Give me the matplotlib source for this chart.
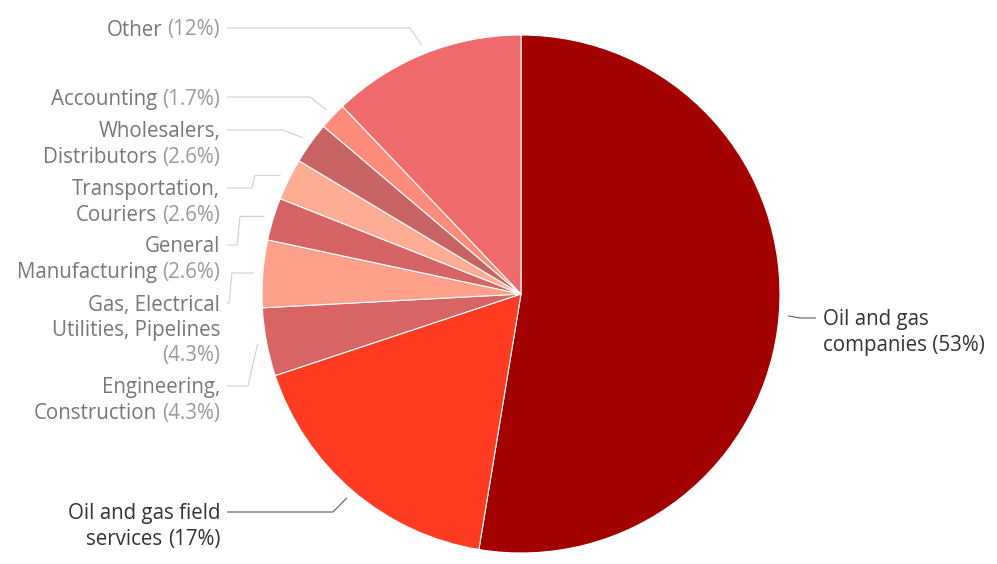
import matplotlib
matplotlib.use('Agg')
import matplotlib.pyplot as plt
import numpy as np

# ---- data ----
categories = ['Oil and gas\ncompanies', 'Oil and gas field\nservices', 'Engineering,\nConstruction',
              'Gas, Electrical\nUtilities, Pipelines\n', 'General\nManufacturing',
              'Transportation,\nCouriers', 'Wholesalers,\nDistributors', 'Accounting', 'Other']
shares = [52.6, 17.3, 4.25, 4.2, 2.65, 2.6, 2.6, 1.7, 12.1]
pct_labels = ['53%', '17%', '4.3%', '4.3%', '2.6%', '2.6%', '2.6%', '1.7%', '12%']
highlight = [True, True, False, False, False, False, False, False, False]

# ---- style / layout ----
colors = ['#a30000', '#ff3b22', '#d96464', '#ffa08a', '#d66464', '#ffac94', '#c86464', '#ff8c7a', '#ef6a6a']
label_y = [318, 512, 386, 303, 245, 188, 130, 97, 28]        # pixel rows of first text line
bend_x = [800, 333, 248, 229, 237, 252, 283, 310, 410]
step_mode = [False, False, False, True, True, True, False, False, False]

W, H = 997, 564
CX, CY_PX, R = 521, 294, 259
FONT = 'Open Sans'
FS = 14.8
LINE_H = 25.5

plt.rcParams['font.family'] = [FONT, 'DejaVu Sans']
fig = plt.figure(figsize=(W / 100, H / 100), dpi=100)
ax = fig.add_axes([0, 0, 1, 1])

def Y(py):
    return H - py

CY = Y(CY_PX)
ax.pie(shares, colors=colors, startangle=90, counterclock=False, center=(CX, CY), radius=R,
       wedgeprops=dict(edgecolor='white', linewidth=0.8, antialiased=True))
ax.set_xlim(0, W)
ax.set_ylim(0, H)
ax.set_aspect('equal')
ax.axis('off')

fig.canvas.draw()
renderer = fig.canvas.get_renderer()

total = float(sum(shares))
cum = 0.0
for i, c in enumerate(shares):
    f = (cum + c / 2.0) / total
    cum += c
    theta = np.deg2rad(90 - 360 * f)
    ax_x = CX + (R + 9) * np.cos(theta)
    ax_y = CY + (R + 9) * np.sin(theta)
    right = np.cos(theta) > 0
    yl = Y(label_y[i])
    lc = '#5a5a5a' if highlight[i] else '#cfcfcf'
    if right:
        xs = [816, bend_x[i], ax_x]
        ys = [yl, yl, ax_y]
    elif step_mode[i]:
        xs = [227, bend_x[i], bend_x[i] + 3, ax_x]
        ys = [yl, yl, ax_y, ax_y]
    else:
        xs = [227, bend_x[i], ax_x]
        ys = [yl, yl, ax_y]
    ax.plot(xs, ys, color=lc, lw=0.8, solid_capstyle='butt', zorder=1)

    lines = categories[i].split('\n')
    name_col = '#333333' if highlight[i] else '#777777'
    pct_col = '#333333' if highlight[i] else '#9a9a9a'
    for j, ln in enumerate(lines):
        base = Y(label_y[i] + j * LINE_H + 7.5)
        last = (j == len(lines) - 1)
        if right:
            txt = ln + (' (' + pct_labels[i] + ')' if last else '')
            ax.text(823, base, txt, ha='left', va='baseline', fontsize=FS, color=name_col, family=FONT)
            continue
        if not last:
            ax.text(220, base, ln, ha='right', va='baseline', fontsize=FS, color=name_col, family=FONT)
            continue
        pt = ax.text(220, base, '(' + pct_labels[i] + ')', ha='right', va='baseline',
                     fontsize=FS, color=pct_col, family=FONT)
        if ln:
            w = pt.get_window_extent(renderer).width
            ax.text(220 - w - 5.5, base, ln, ha='right', va='baseline', fontsize=FS,
                    color=name_col, family=FONT)

fig.savefig('out.png', dpi=100, facecolor='white')
